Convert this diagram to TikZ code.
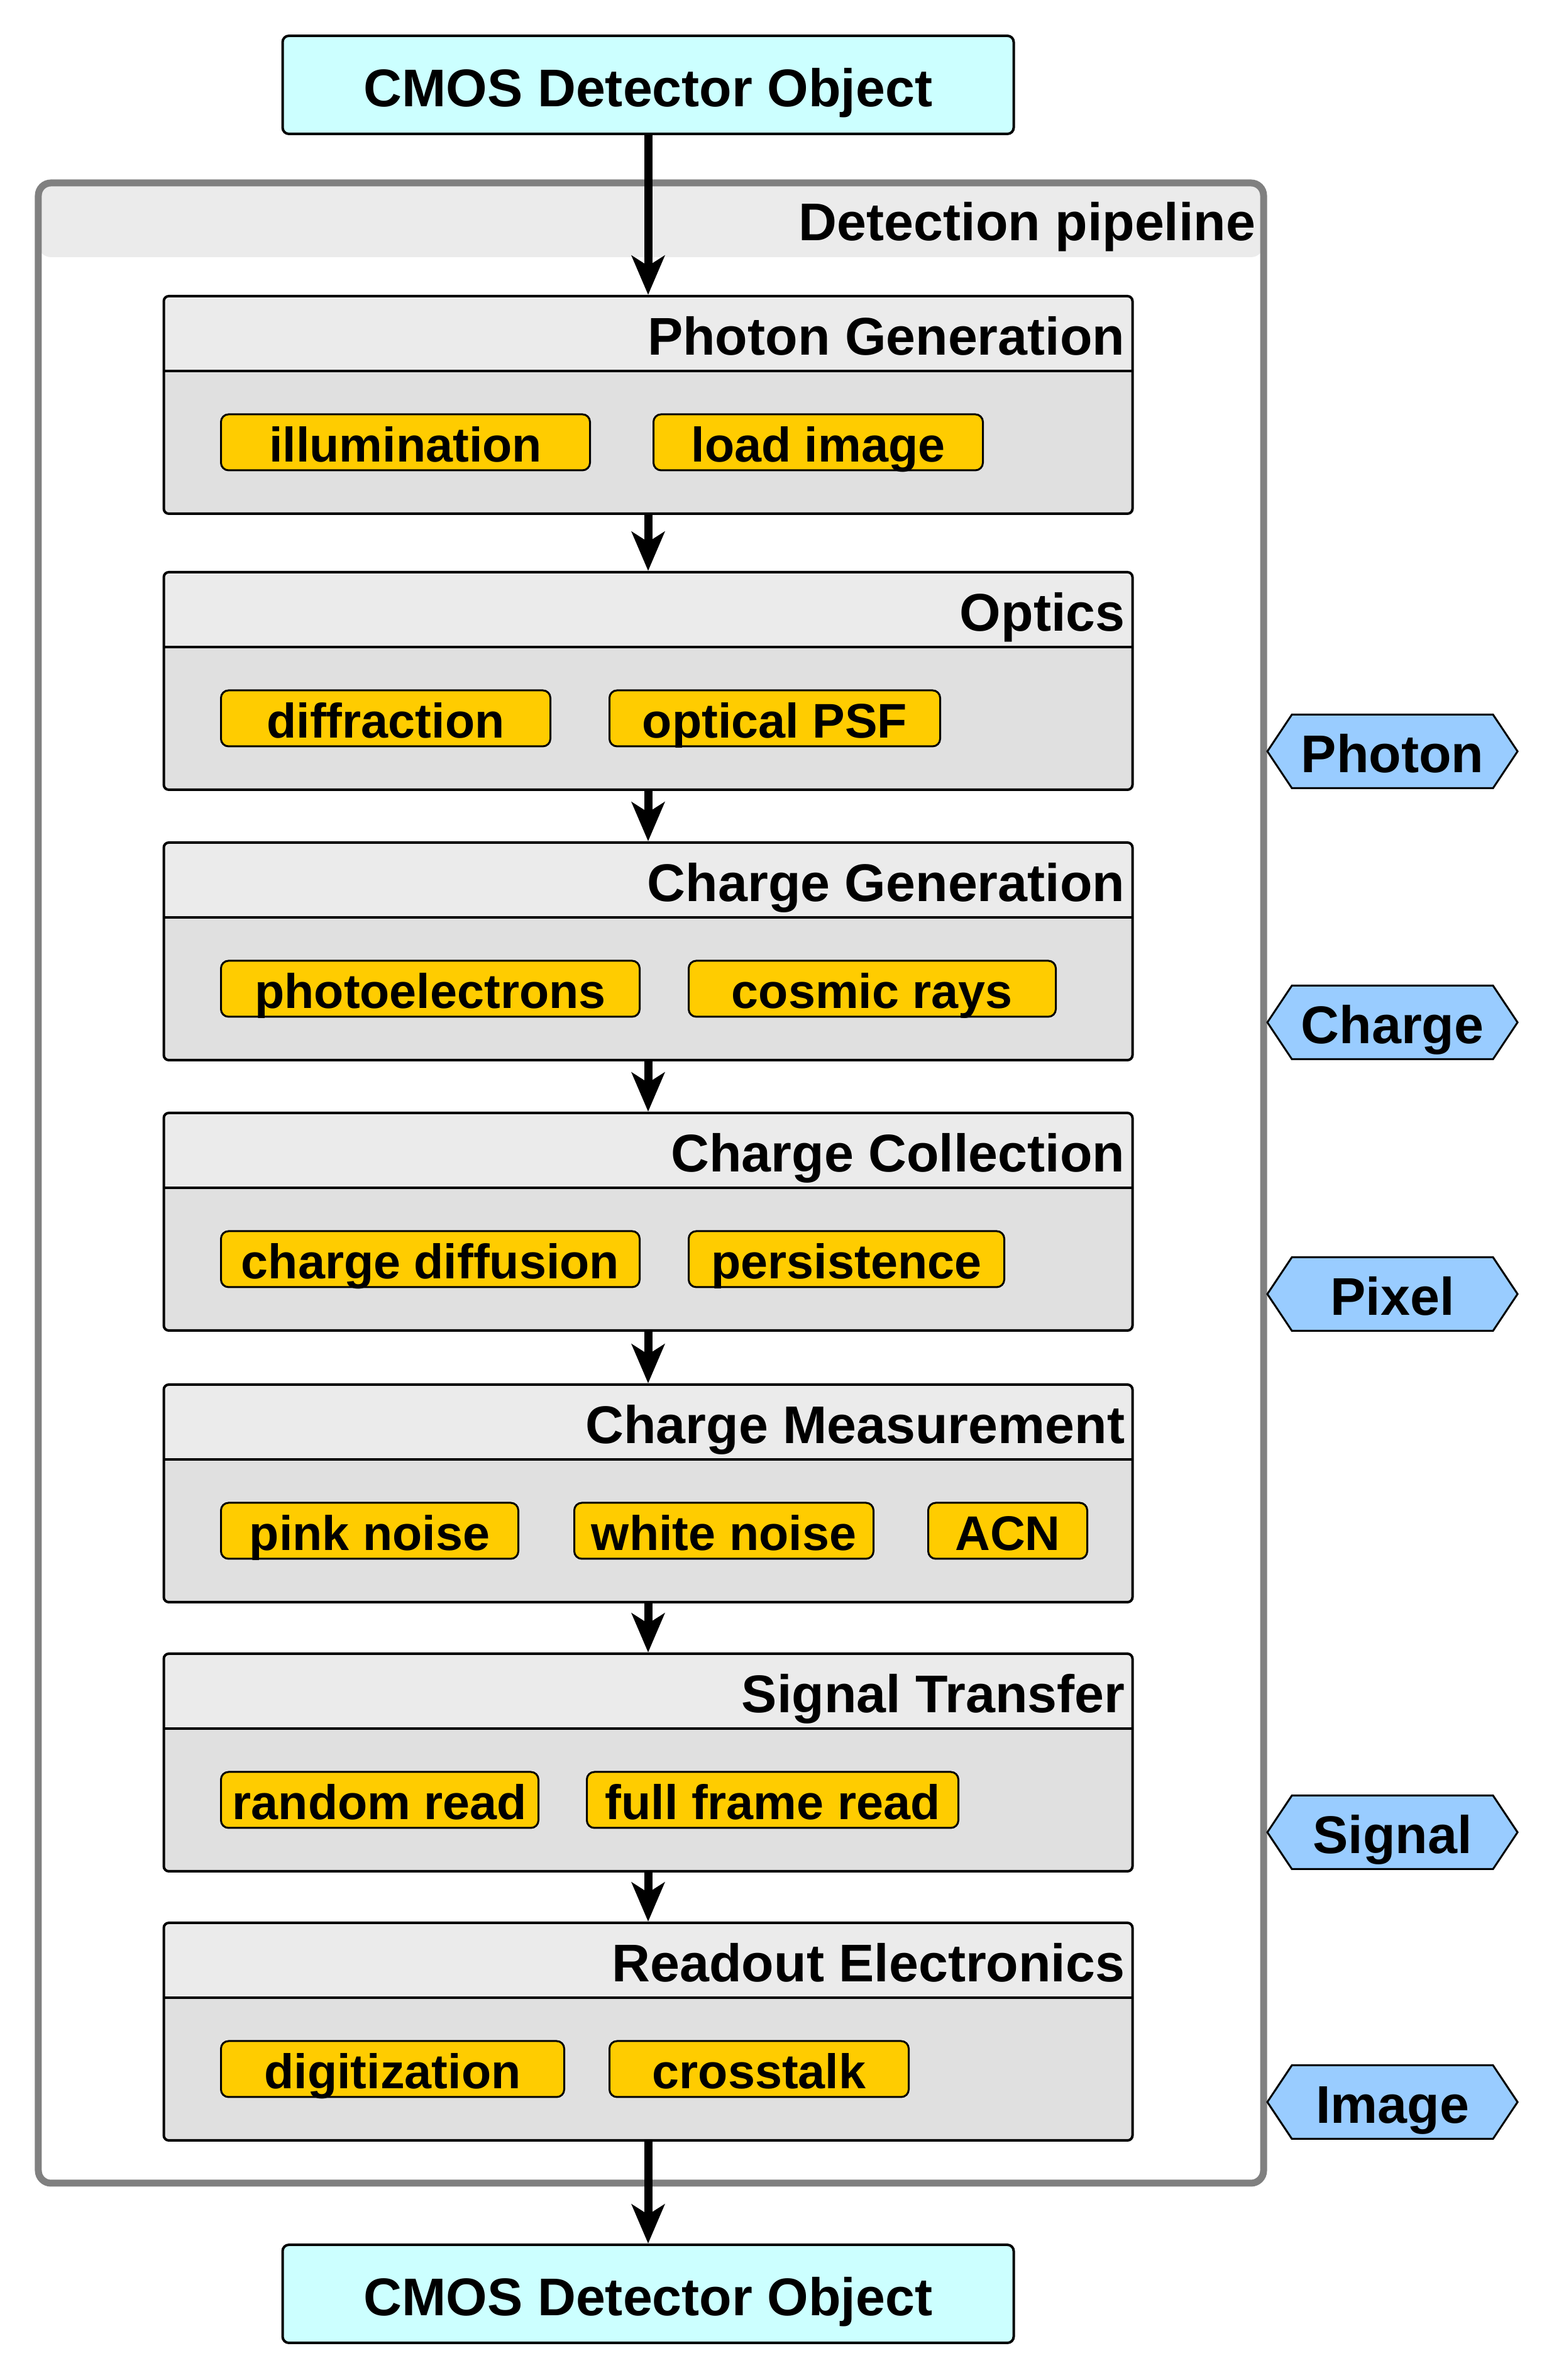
\documentclass[tikz,border=0pt]{standalone}
\usepackage{fontspec}
\setmainfont{Liberation Sans}
\usetikzlibrary{arrows.meta,shapes.symbols}
\definecolor{objcyan}{HTML}{CCFFFF}
\definecolor{headgray}{HTML}{EBEBEB}
\definecolor{bodygray}{HTML}{E0E0E0}
\definecolor{framegray}{HTML}{808080}
\definecolor{itemyellow}{HTML}{FFCC00}
\definecolor{tagblue}{HTML}{99CCFF}
\newcommand{\stagefont}{\fontsize{24}{28}\selectfont\bfseries}
\newcommand{\itemfont}{\fontsize{22}{26}\selectfont\bfseries}
\begin{document}
\begin{tikzpicture}
            \tikzstyle{object}=[rectangle,rounded corners=1mm,draw=black,line width=0.4mm,fill=objcyan,minimum width=11.63cm,minimum height=1.56cm,inner sep=0pt,text height=7mm,text depth=0mm,font=\stagefont]
            \tikzstyle{pipeline}=[rectangle,rounded corners=2mm,draw=framegray,line width=1.1mm,fill=white,minimum width=19.49cm,minimum height=31.81cm,inner sep=0pt,path picture={\fill[headgray] (path picture bounding box.north west) rectangle ([yshift=-11.8mm]path picture bounding box.north east);}]
            \tikzstyle{stage}=[rectangle,rounded corners=0.8mm,draw=black,line width=0.4mm,fill=bodygray,minimum width=15.41cm,minimum height=3.46cm,inner sep=0pt,path picture={\fill[headgray] (path picture bounding box.north west) rectangle ([yshift=-11.9mm]path picture bounding box.north east); \draw[line width=0.4mm] ([yshift=-11.9mm]path picture bounding box.north west) -- ([yshift=-11.9mm]path picture bounding box.north east);}]
            \tikzstyle{title}=[anchor=east,inner sep=0pt,text height=6.9mm,text depth=0mm,font=\stagefont]
            \tikzstyle{item}=[rectangle,rounded corners=1.2mm,draw=black,line width=0.3mm,fill=itemyellow,minimum height=0.89cm,anchor=west,inner sep=0pt,text height=6.2mm,text depth=0mm,font=\itemfont]
            \tikzstyle{tag}=[signal,signal to=west and east,signal pointer angle=112.6,draw=black,line width=0.3mm,fill=tagblue,minimum width=3.98cm,minimum height=1.17cm,inner sep=0pt,text height=6.8mm,text depth=0mm,font=\stagefont]
            \tikzstyle{edge}=[draw,line width=1.3mm,-{Stealth[length=6.2mm,width=5.2mm,inset=1.6mm]}]
            \useasboundingbox (0,0) rectangle (24.72,37.85);
            \begin{scope}
               \node [pipeline] (pipe) at (10.355,19.035) {};
               \node [title] (pipetitle) at (19.98,34.365) {Detection pipeline};
               \node [object] (objin) at (10.31,36.50) {CMOS Detector Object};
               \node [object] (objout) at (10.31,1.37) {CMOS Detector Object};
               \node [stage] (s1) at (10.31,31.41) {};
               \node [stage] (s2) at (10.31,27.02) {};
               \node [stage] (s3) at (10.31,22.72) {};
               \node [stage] (s4) at (10.31,18.42) {};
               \node [stage] (s5) at (10.31,14.10) {};
               \node [stage] (s6) at (10.31,9.82) {};
               \node [stage] (s7) at (10.31,5.54) {};
               \node [title] (t1) at (17.90,32.545) {Photon Generation};
               \node [title] (t2) at (17.90,28.155) {Optics};
               \node [title] (t3) at (17.90,23.855) {Charge Generation};
               \node [title] (t4) at (17.90,19.555) {Charge Collection};
               \node [title] (t5) at (17.90,15.235) {Charge Measurement};
               \node [title] (t6) at (17.90,10.955) {Signal Transfer};
               \node [title] (t7) at (17.90,6.675) {Readout Electronics};
               \node [item,minimum width=5.87cm] (i11) at (3.50,30.815) {illumination};
               \node [item,minimum width=5.24cm] (i12) at (10.38,30.815) {load image};
               \node [item,minimum width=5.24cm] (i21) at (3.50,26.425) {diffraction};
               \node [item,minimum width=5.26cm] (i22) at (9.68,26.425) {optical PSF};
               \node [item,minimum width=6.66cm] (i31) at (3.50,22.125) {photoelectrons};
               \node [item,minimum width=5.84cm] (i32) at (10.94,22.125) {cosmic rays};
               \node [item,minimum width=6.66cm] (i41) at (3.50,17.825) {charge diffusion};
               \node [item,minimum width=5.02cm] (i42) at (10.94,17.825) {persistence};
               \node [item,minimum width=4.73cm] (i51) at (3.50,13.505) {pink noise};
               \node [item,minimum width=4.76cm] (i52) at (9.12,13.505) {white noise};
               \node [item,minimum width=2.53cm] (i53) at (14.75,13.505) {ACN};
               \node [item,minimum width=5.05cm] (i61) at (3.50,9.225) {random read};
               \node [item,minimum width=5.91cm] (i62) at (9.32,9.225) {full frame read};
               \node [item,minimum width=5.46cm] (i71) at (3.50,4.945) {digitization};
               \node [item,minimum width=4.76cm] (i72) at (9.68,4.945) {crosstalk};
               \node [tag] (photon) at (22.15,25.90) {Photon};
               \node [tag] (charge) at (22.15,21.59) {Charge};
               \node [tag] (pixel) at (22.15,17.27) {Pixel};
               \node [tag] (signal) at (22.15,8.71) {Signal};
               \node [tag] (image) at (22.15,4.42) {Image};
               \path[edge] (objin) edge (s1);
               \path[edge] (s1) edge (s2);
               \path[edge] (s2) edge (s3);
               \path[edge] (s3) edge (s4);
               \path[edge] (s4) edge (s5);
               \path[edge] (s5) edge (s6);
               \path[edge] (s6) edge (s7);
               \path[edge] (s7) edge (objout);
            \end{scope}
\end{tikzpicture}
\end{document}
